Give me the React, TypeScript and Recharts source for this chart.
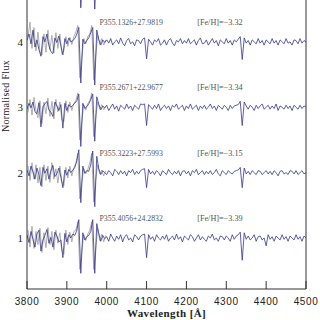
import React from 'react';
import { LineChart, Line, XAxis, YAxis, ReferenceLine, ReferenceDot } from 'recharts';

// Wavelength grid (Å) for the model (blue) spectra
const W = [
  3800, 3805, 3810, 3815, 3820, 3825, 3830, 3835, 3840, 3845,
  3850, 3855, 3860, 3865, 3870, 3875, 3880, 3885, 3890, 3895,
  3900, 3905, 3910, 3915, 3920, 3925, 3930, 3935, 3940, 3945,
  3950, 3955, 3960, 3965, 3970, 3975, 3980, 3985, 3990, 3995,
  4000, 4005, 4010, 4015, 4020, 4025, 4030, 4035, 4040, 4045,
  4050, 4055, 4060, 4065, 4070, 4075, 4080, 4085, 4090, 4095,
  4100, 4105, 4110, 4115, 4120, 4125, 4130, 4135, 4140, 4145,
  4150, 4155, 4160, 4165, 4170, 4175, 4180, 4185, 4190, 4195,
  4200, 4205, 4210, 4215, 4220, 4225, 4230, 4235, 4240, 4245,
  4250, 4255, 4260, 4265, 4270, 4275, 4280, 4285, 4290, 4295,
  4300, 4305, 4310, 4315, 4320, 4325, 4330, 4335, 4340, 4345,
  4350, 4355, 4360, 4365, 4370, 4375, 4380, 4385, 4390, 4395,
  4400, 4405, 4410, 4415, 4420, 4425, 4430, 4435, 4440, 4445,
  4450, 4455, 4460, 4465, 4470, 4475, 4480, 4485, 4490, 4495,
  4500,
];

// Normalised flux, P355.4056+24.2832 (bottom)
const S1 = [
  1.05, 0.93, 1.10, 0.98, 0.86, 1.06, 1.12, 0.80, 0.97, 1.04,
  1.13, 0.92, 1.01, 0.86, 1.09, 1.03, 0.94, 0.97, 0.70, 1.07,
  0.94, 1.05, 1.00, 1.06, 1.04, 1.12, 1.28, 0.46, 1.08, 0.97,
  1.02, 1.04, 1.10, 1.28, 0.46, 1.22, 1.07, 0.95, 1.04, 0.99,
  1.02, 0.95, 1.06, 1.00, 0.95, 1.03, 0.98, 1.05, 0.94, 1.02,
  1.05, 0.97, 1.00, 0.94, 1.05, 1.02, 0.97, 1.03, 1.05, 1.06,
  0.70, 1.05, 0.98, 1.02, 0.95, 1.05, 1.00, 0.97, 1.03, 0.98,
  1.05, 0.95, 1.00, 1.03, 0.97, 1.06, 0.98, 1.02, 0.94, 1.03,
  1.00, 0.97, 1.05, 1.02, 0.95, 1.00, 1.05, 0.97, 1.02, 0.98,
  0.95, 1.03, 1.00, 1.06, 0.97, 1.00, 0.95, 1.03, 1.02, 0.97,
  1.03, 1.00, 0.95, 1.05, 0.98, 1.03, 1.05, 1.09, 0.66, 1.08,
  0.98, 1.03, 0.97, 1.00, 1.05, 0.95, 1.02, 1.03, 0.97, 1.00,
  0.88, 1.05, 0.98, 1.02, 0.95, 1.03, 1.00, 0.97, 1.05, 0.98,
  1.02, 0.95, 1.03, 1.00, 0.97, 1.05, 0.98, 1.02, 0.95, 1.03,
  1.00,
];

// P355.3223+27.5993
const S2 = [
  1.04, 0.95, 1.10, 1.01, 0.90, 1.07, 0.97, 0.80, 1.08, 0.99,
  1.06, 0.90, 1.03, 1.11, 0.94, 0.98, 1.07, 0.93, 0.77, 1.04,
  0.96, 1.05, 1.00, 1.04, 1.08, 1.18, 1.35, 0.54, 1.10, 0.99,
  1.03, 1.02, 1.12, 1.33, 0.48, 1.25, 1.06, 0.97, 1.03, 1.00,
  0.97, 1.03, 1.00, 0.95, 1.05, 1.02, 0.97, 1.03, 0.98, 1.02,
  0.95, 1.03, 1.00, 1.05, 0.97, 1.02, 0.98, 1.03, 1.05, 1.06,
  0.77, 1.05, 0.98, 1.02, 0.97, 1.03, 1.00, 0.95, 1.03, 1.00,
  0.97, 1.05, 1.00, 0.97, 1.02, 0.98, 1.03, 0.95, 1.02, 1.03,
  0.98, 1.02, 0.95, 1.03, 1.00, 1.05, 0.97, 1.00, 1.03, 0.97,
  1.02, 0.98, 1.03, 0.97, 1.00, 1.05, 0.98, 0.95, 1.03, 1.00,
  0.97, 1.03, 1.00, 0.98, 1.02, 1.03, 1.04, 1.08, 0.77, 1.07,
  0.98, 1.02, 0.97, 1.03, 1.00, 0.97, 1.03, 1.02, 0.97, 1.00,
  1.03, 0.98, 1.02, 0.97, 1.03, 1.00, 0.95, 1.02, 1.03, 0.98,
  1.00, 0.97, 1.03, 1.02, 0.98, 1.03, 0.97, 1.00, 1.03, 0.98,
  1.00,
];

// P355.2671+22.9677
const S3 = [
  0.97, 1.06, 0.99, 1.08, 0.93, 0.90, 1.07, 0.70, 1.01, 1.05,
  1.09, 0.96, 0.92, 0.86, 1.08, 1.02, 0.95, 1.04, 0.68, 1.06,
  0.95, 1.04, 1.00, 1.03, 1.06, 1.10, 1.20, 0.40, 1.06, 0.98,
  1.01, 1.05, 1.12, 1.20, 0.48, 1.16, 1.05, 0.96, 1.02, 0.99,
  1.03, 0.95, 1.00, 1.05, 0.97, 1.02, 0.94, 1.03, 1.00, 0.97,
  1.05, 0.98, 1.02, 0.95, 1.03, 1.00, 0.97, 1.05, 1.04, 1.05,
  0.72, 1.04, 1.00, 0.97, 1.03, 0.98, 1.05, 0.95, 1.00, 1.03,
  0.98, 1.02, 0.95, 1.03, 1.00, 1.05, 0.97, 1.00, 1.03, 0.95,
  1.02, 0.98, 1.05, 0.97, 1.00, 1.03, 0.95, 1.02, 0.98, 1.03,
  0.97, 1.00, 1.05, 0.98, 1.02, 0.95, 1.03, 1.00, 0.97, 1.03,
  1.00, 0.95, 1.03, 0.98, 1.02, 1.03, 1.04, 1.09, 0.72, 1.08,
  1.02, 0.97, 1.03, 1.00, 0.95, 1.03, 0.98, 1.02, 1.05, 0.97,
  1.00, 1.03, 0.97, 1.02, 0.98, 1.05, 0.95, 1.02, 1.00, 0.97,
  1.03, 0.98, 1.02, 0.95, 1.03, 1.00, 0.97, 1.03, 0.98, 1.02,
  1.00,
];

// P355.1326+27.9819
const S4 = [
  1.02, 1.12, 0.97, 1.18, 0.92, 1.03, 0.88, 0.78, 1.08, 1.00,
  1.12, 0.94, 0.85, 0.82, 1.06, 0.99, 1.09, 0.94, 0.80, 1.05,
  0.97, 1.06, 1.00, 1.02, 1.05, 1.12, 1.22, 0.37, 1.04, 0.97,
  1.02, 1.06, 1.14, 1.22, 0.34, 1.18, 1.04, 0.95, 1.03, 0.99,
  1.03, 0.98, 1.05, 0.95, 1.00, 1.03, 0.97, 1.06, 0.98, 0.94,
  1.02, 1.05, 0.97, 1.00, 0.94, 1.03, 1.02, 0.97, 1.04, 1.06,
  0.74, 1.04, 1.00, 0.95, 1.03, 1.00, 1.05, 0.95, 0.98, 1.03,
  0.95, 1.02, 1.05, 0.98, 0.94, 1.02, 1.00, 1.05, 0.97, 1.02,
  0.98, 1.05, 0.97, 1.00, 1.03, 0.95, 1.02, 1.06, 0.97, 0.98,
  1.03, 0.95, 1.00, 1.05, 0.98, 1.02, 0.94, 1.03, 1.00, 0.97,
  1.05, 0.98, 1.02, 0.95, 1.03, 1.00, 1.04, 1.08, 0.73, 1.06,
  0.98, 1.02, 0.95, 1.03, 1.00, 0.97, 1.05, 0.98, 1.02, 0.95,
  1.03, 1.00, 0.97, 1.05, 0.98, 1.02, 0.95, 1.03, 1.00, 0.97,
  1.05, 0.98, 1.00, 0.95, 1.03, 1.02, 0.97, 1.05, 0.98, 1.02,
  1.00,
];

// Observed (grey) spectra, blue end only
const GW = [
  3802.5, 3807.5, 3812.5, 3817.5, 3822.5, 3827.5, 3832.5, 3837.5, 3842.5, 3847.5,
  3852.5, 3857.5, 3862.5, 3867.5, 3872.5, 3877.5, 3882.5, 3887.5, 3892.5, 3897.5,
  3902.5, 3907.5, 3912.5, 3917.5, 3922.5, 3927.5, 3932.5, 3937.5, 3942.5, 3947.5,
  3952.5, 3957.5, 3962.5, 3967.5, 3972.5, 3977.5, 3982.5, 3987.5, 3992.5, 3997.5,
];
const G1 = [
  1.12, 0.86, 1.18, 0.84, 1.10, 0.90, 1.15, 0.78, 1.08, 0.85,
  1.16, 0.90, 1.10, 0.82, 1.12, 0.92, 1.08, 0.80, 0.75, 1.12,
  0.90, 1.09, 0.94, 1.10, 1.12, 1.25, 0.52, 0.80, 1.05, 0.96,
  1.06, 1.12, 1.25, 0.52, 0.85, 1.15, 0.96, 1.06, 0.94, 1.04,
];
const G2 = [
  1.10, 0.88, 1.15, 0.90, 1.12, 0.84, 1.08, 0.78, 1.12, 0.88,
  1.10, 0.85, 1.15, 0.90, 1.06, 0.84, 1.10, 0.86, 0.80, 1.08,
  0.92, 1.10, 0.95, 1.07, 1.14, 1.30, 0.60, 0.85, 1.06, 0.98,
  1.05, 1.15, 1.30, 0.55, 0.90, 1.12, 0.98, 1.04, 0.95, 1.03,
];
const G3 = [
  0.92, 1.12, 0.88, 1.15, 0.95, 0.84, 1.10, 0.75, 1.08, 0.90,
  1.14, 0.86, 1.09, 0.82, 1.12, 0.93, 1.08, 0.80, 0.78, 1.10,
  0.92, 1.08, 0.95, 1.06, 1.10, 1.22, 0.50, 0.78, 1.04, 0.96,
  1.06, 1.10, 1.22, 0.55, 0.85, 1.08, 0.97, 1.04, 0.96, 1.02,
];
const G4 = [
  1.08, 1.30, 0.90, 1.22, 0.86, 1.15, 0.85, 0.80, 1.12, 0.84,
  1.18, 0.88, 1.10, 0.83, 1.14, 0.90, 1.12, 0.82, 0.86, 1.08,
  0.93, 1.07, 0.96, 1.08, 1.15, 1.25, 0.45, 0.75, 1.05, 0.97,
  1.08, 1.12, 1.25, 0.42, 0.80, 1.10, 0.96, 1.05, 0.95, 1.03,
];

// Star above the visible window (only its Ca II H&K lines reach in)
const TW = [
  3900, 3905, 3910, 3915, 3920, 3925, 3930, 3935, 3940, 3945,
  3950, 3955, 3960, 3965, 3970, 3975, 3980, 3985, 3990, 3995, 4000,
];
const T5 = [
  1.02, 0.97, 1.04, 0.98, 1.05, 1.10, 1.20, 0.52, 1.05, 0.98,
  1.02, 1.05, 1.12, 1.20, 0.50, 1.15, 1.04, 0.97, 1.02, 0.98, 1.01,
];

const OFFSETS = [0, 1, 2, 3];
const TOP_OFFSET = 4;
const NAMES = ['P355.4056+24.2832', 'P355.3223+27.5993', 'P355.2671+22.9677', 'P355.1326+27.9819'];
const FEH = ['[Fe/H]=\u22123.39', '[Fe/H]=\u22123.15', '[Fe/H]=\u22123.34', '[Fe/H]=\u22123.32'];
const X_TICKS = [3800, 3900, 4000, 4100, 4200, 4300, 4400, 4500];
const Y_TICKS = [1, 2, 3, 4];

const NAME_X = 3982;
const FEH_X = 4227;
const LABEL_DY = 0.3;

const BLUE = '#36368c';
const GREY = '#9c9c9c';
const AXIS = '#333';

const toPts = (xs: number[], ys: number[], off: number) => xs.map((x, i) => ({ x, y: ys[i] + off }));

function YLabel() {
  return (
    <text
      x={8.5}
      y={96}
      transform="rotate(-90 8.5 96)"
      textAnchor="middle"
      fontFamily="Liberation Serif"
      fontSize={10}
      fill="#222"
      letterSpacing={0.3}
    >
      Normalised Flux
    </text>
  );
}

export default function App() {
  const blue = [S1, S2, S3, S4].map((s, i) => toPts(W, s, OFFSETS[i]));
  const grey = [G1, G2, G3, G4].map((g, i) => toPts(GW, g, OFFSETS[i]));
  const top = toPts(TW, T5, TOP_OFFSET);
  return (
    <div style={{ position: 'absolute', left: 0, top: 0, width: 320, height: 320, background: '#fff' }}>
      <LineChart width={320} height={320} margin={{ top: 0, right: 14, bottom: 0, left: 0 }}>
        <XAxis
          type="number"
          dataKey="x"
          domain={[3800, 4500]}
          ticks={X_TICKS}
          allowDataOverflow
          height={31}
          stroke={AXIS}
          tickSize={-8}
          tickMargin={17}
          tick={{ fill: '#222', fontSize: 10, fontFamily: 'Liberation Sans', letterSpacing: 0.6 }}
          label={{
            value: 'Wavelength [Å]',
            position: 'insideBottom',
            offset: 3,
            fill: '#222',
            fontSize: 11,
            fontFamily: 'Liberation Serif',
            fontWeight: 'bold',
            letterSpacing: 0.4,
          }}
        />
        <YAxis
          type="number"
          domain={[0.22, 4.64]}
          ticks={Y_TICKS}
          allowDataOverflow
          width={27}
          stroke={AXIS}
          tickLine={false}
          tickSize={0}
          tickMargin={4}
          tick={{ fill: '#222', fontSize: 11, fontFamily: 'Liberation Serif' }}
          label={<YLabel />}
        />
        <ReferenceLine x={4500} stroke={AXIS} />
        {grey.map((d, i) => (
          <Line
            key={'g' + i}
            data={d}
            dataKey="y"
            type="linear"
            stroke={GREY}
            strokeWidth={0.8}
            dot={false}
            isAnimationActive={false}
          />
        ))}
        {blue.map((d, i) => (
          <Line
            key={'b' + i}
            data={d}
            dataKey="y"
            type="linear"
            stroke={BLUE}
            strokeWidth={0.8}
            dot={false}
            isAnimationActive={false}
          />
        ))}
        <Line data={top} dataKey="y" type="linear" stroke={BLUE} strokeWidth={0.8} dot={false} isAnimationActive={false} />
        {NAMES.map((n, i) => (
          <ReferenceDot
            key={'n' + i}
            x={NAME_X}
            y={OFFSETS[i] + 1 + LABEL_DY}
            r={0}
            shape={(p: any) => (
              <text x={p.cx} y={p.cy} dominantBaseline="central" fontFamily="Liberation Serif" fontSize={7.8} fill="#555">
                {n}
              </text>
            )}
          />
        ))}
        {FEH.map((f, i) => (
          <ReferenceDot
            key={'f' + i}
            x={FEH_X}
            y={OFFSETS[i] + 1 + LABEL_DY}
            r={0}
            shape={(p: any) => (
              <text x={p.cx} y={p.cy} dominantBaseline="central" fontFamily="Liberation Serif" fontSize={8.2} fill="#555">
                {f}
              </text>
            )}
          />
        ))}
      </LineChart>
    </div>
  );
}
